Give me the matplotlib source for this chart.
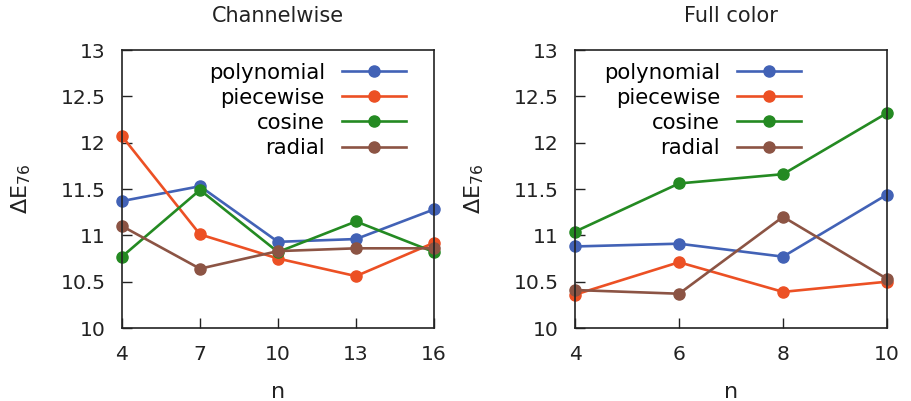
import matplotlib
matplotlib.use("Agg")
import matplotlib.pyplot as plt

# Channelwise
n_ch = [4, 7, 10, 13, 16]
poly_ch = [11.37, 11.53, 10.93, 10.96, 11.28]
piece_ch = [12.07, 11.01, 10.75, 10.56, 10.92]
cos_ch = [10.77, 11.49, 10.82, 11.15, 10.82]
rad_ch = [11.10, 10.64, 10.83, 10.86, 10.86]

# Full color
n_fc = [4, 6, 8, 10]
poly_fc = [10.88, 10.91, 10.77, 11.44]
piece_fc = [10.36, 10.71, 10.39, 10.50]
cos_fc = [11.04, 11.56, 11.66, 12.32]
rad_fc = [10.41, 10.37, 11.20, 10.53]

names = ["polynomial", "piecewise", "cosine", "radial"]
colors = ["#4262b6", "#ec5024", "#248a22", "#8c5444"]

fig = plt.figure(figsize=(9.11, 4.01), dpi=100)
ax1 = fig.add_axes([0.1339, 0.182, 0.3425, 0.6933])
ax2 = fig.add_axes([0.6312, 0.182, 0.3425, 0.6933])


def draw(ax, x, series, title, leg_x):
    for ys, name, c in zip(series, names, colors):
        ax.plot(x, ys, color=c, lw=1.9, marker="o", ms=8, label=name, clip_on=False)
    ax.set_xlim(x[0], x[-1])
    ax.set_ylim(10, 13)
    ax.set_xticks(x)
    ax.set_yticks([10, 10.5, 11, 11.5, 12, 12.5, 13])
    ax.set_yticklabels(["10", "10.5", "11", "11.5", "12", "12.5", "13"])
    ax.tick_params(direction="in", length=7, width=1, labelsize=14.6, pad=12,
                   colors="#222222", top=False, right=False)
    for s in ax.spines.values():
        s.set_linewidth(1.2)
        s.set_color("#222222")
    ax.set_title(title, fontsize=15, pad=20, color="#222222")
    ax.set_xlabel("n", fontsize=16, labelpad=13, color="#222222")
    ax.set_ylabel(r"$\Delta\mathregular{E}_{76}$", fontsize=16, labelpad=20, color="#222222")
    ax.legend(loc="upper right", frameon=False, markerfirst=False, fontsize=15.3,
              handlelength=3.0, labelspacing=0.24, handletextpad=0.8,
              bbox_to_anchor=(leg_x, 1.023))


draw(ax1, n_ch, [poly_ch, piece_ch, cos_ch, rad_ch], "Channelwise", 0.97)
draw(ax2, n_fc, [poly_fc, piece_fc, cos_fc, rad_fc], "Full color", 0.785)

fig.savefig("out.png", dpi=100)
